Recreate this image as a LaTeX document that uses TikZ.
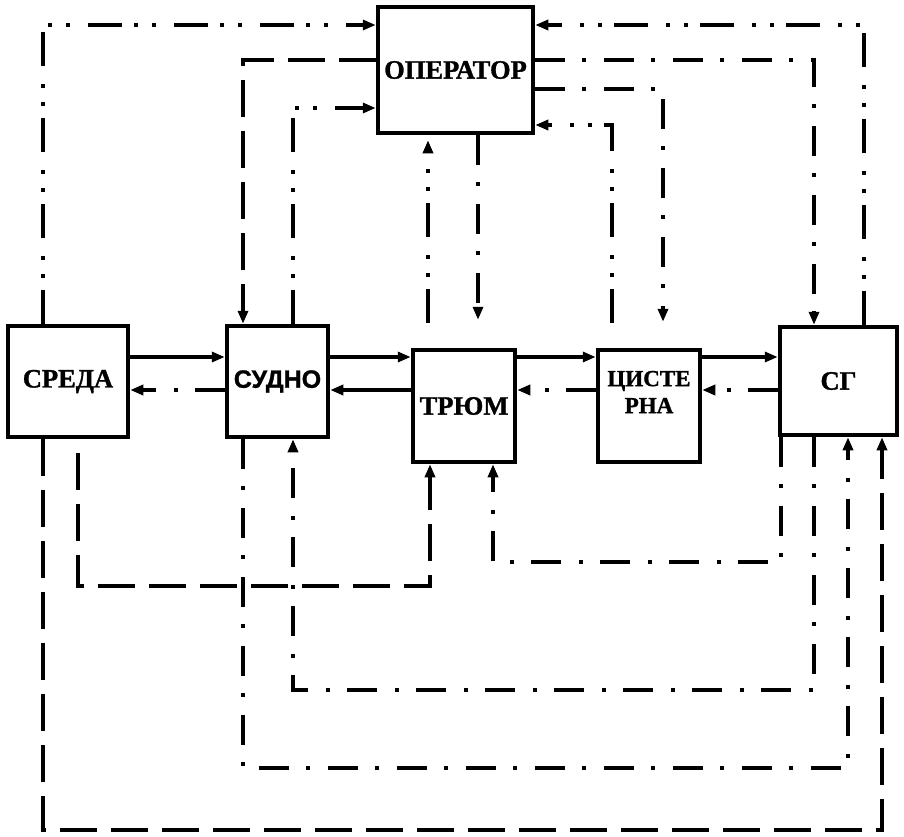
\documentclass[tikz,border=0pt]{standalone}
\usepackage{fontspec}
\setmainfont[BoldFeatures={FakeBold=1.2}]{Liberation Serif}
\newfontfamily\sansbold[BoldFeatures={FakeBold=1.2}]{Liberation Sans}
\usetikzlibrary{arrows.meta}
\begin{document}
\begin{tikzpicture}[x=1pt,y=-1pt,
  box/.style={draw, line width=4.5pt, inner sep=0pt, font=\fontsize{26.5}{30}\selectfont\bfseries},
  conn/.style={line width=3.5pt, line cap=butt, line join=miter, -{Triangle[length=13pt,width=10pt]}},
  solidc/.style={conn},
  ddot/.style={conn, dash pattern=on 34pt off 12pt on 4pt off 14pt on 4pt off 18pt},
  dashdotc/.style={conn, dash pattern=on 30pt off 17pt on 4pt off 18pt},
  dashc/.style={conn, dash pattern=on 37pt off 14pt}]
\useasboundingbox (0,0) rectangle (904,836);
% boxes
\node[box, minimum width=155pt, minimum height=126pt] (op) at (455.5,70) {ОПЕРАТОР};
\node[box, minimum width=120pt, minimum height=111pt] (sreda) at (68,381.5) {СРЕДА};
\node[box, minimum width=101pt, minimum height=111pt, font=\fontsize{25}{30}\selectfont\sansbold\bfseries] (sudno) at (277.5,381.5) {СУДНО};
\node[box, minimum width=102pt, minimum height=112pt] (trum) at (464,406) {ТРЮМ};
\node[box, minimum width=102pt, minimum height=112pt] (cist) at (649,406) {};
\node[align=center, inner sep=0pt, font=\fontsize{23}{27}\selectfont\bfseries] (cistlbl) at (649,392) {ЦИСТЕ\\РНА};
\node[box, minimum width=117pt, minimum height=108pt] (sg) at (838.5,381) {СГ};
% helper coordinates
\coordinate (c43) at (43,0);
\coordinate (c78) at (78,0);
\coordinate (c243) at (243,0);
\coordinate (c293) at (293,0);
\coordinate (c428) at (428,0);
\coordinate (c430) at (430,0);
\coordinate (c478) at (478,0);
\coordinate (c493) at (493,0);
\coordinate (c612) at (612,0);
\coordinate (c663) at (663,0);
\coordinate (c781) at (781,0);
\coordinate (c814) at (814,0);
\coordinate (c848) at (848,0);
\coordinate (c864) at (864,0);
\coordinate (c882) at (882,0);
\coordinate (r25) at (0,25);
\coordinate (r60) at (0,60);
\coordinate (r89) at (0,89);
\coordinate (r108) at (0,108);
\coordinate (r125) at (0,125);
\coordinate (r357) at (0,357);
\coordinate (r390) at (0,390);
\coordinate (r562) at (0,562);
\coordinate (r586) at (0,586);
\coordinate (r690) at (0,690);
\coordinate (r768) at (0,768);
\coordinate (r830) at (0,830);
% top connectors
\draw[ddot] (sreda.north -| c43) |- (op.west |- r25);
\draw[dashc] (op.west |- r60) -| (sudno.north -| c243);
\draw[ddot] (sudno.north -| c293) |- (op.west |- r108);
\draw[ddot, shorten <=25pt, shorten >=5pt] (trum.north -| c428) -- (op.south -| c428);
\draw[dashdotc, shorten >=28pt] (op.south -| c478) -- (trum.north -| c478);
\draw[ddot, shorten <=25pt] (cist.north -| c612) |- (op.east |- r125);
\draw[dashdotc, shorten >=26pt] (op.east |- r89) -| (cist.north -| c663);
\draw[dashdotc] (op.east |- r60) -| (sg.north -| c814);
\draw[ddot] (sg.north -| c864) |- (op.east |- r25);
% horizontal connectors
\draw[solidc] (sreda.east |- r357) -- (sudno.west |- r357);
\draw[dashdotc] (sudno.west |- r390) -- (sreda.east |- r390);
\draw[solidc] (sudno.east |- r357) -- (trum.west |- r357);
\draw[solidc] (trum.west |- r390) -- (sudno.east |- r390);
\draw[solidc] (trum.east |- r357) -- (cist.west |- r357);
\draw[dashdotc] (cist.west |- r390) -- (trum.east |- r390);
\draw[solidc] (cist.east |- r357) -- (sg.west |- r357);
\draw[dashdotc] (sg.west |- r390) -- (cist.east |- r390);
% bottom connectors
\draw[dashc] (sreda.south -| c43) |- (c882 |- r830) -- (sg.south -| c882);
\draw[dashc, shorten <=14pt] (sreda.south -| c78) |- (c430 |- r586) -- (trum.south -| c430);
\draw[dashdotc] (sudno.south -| c243) |- (c848 |- r768) -- (sg.south -| c848);
\draw[dashdotc] (sg.south -| c814) |- (c293 |- r690) -- (sudno.south -| c293);
\draw[dashdotc] (sg.south -| c781) |- (c493 |- r562) -- (trum.south -| c493);
\end{tikzpicture}
\end{document}
